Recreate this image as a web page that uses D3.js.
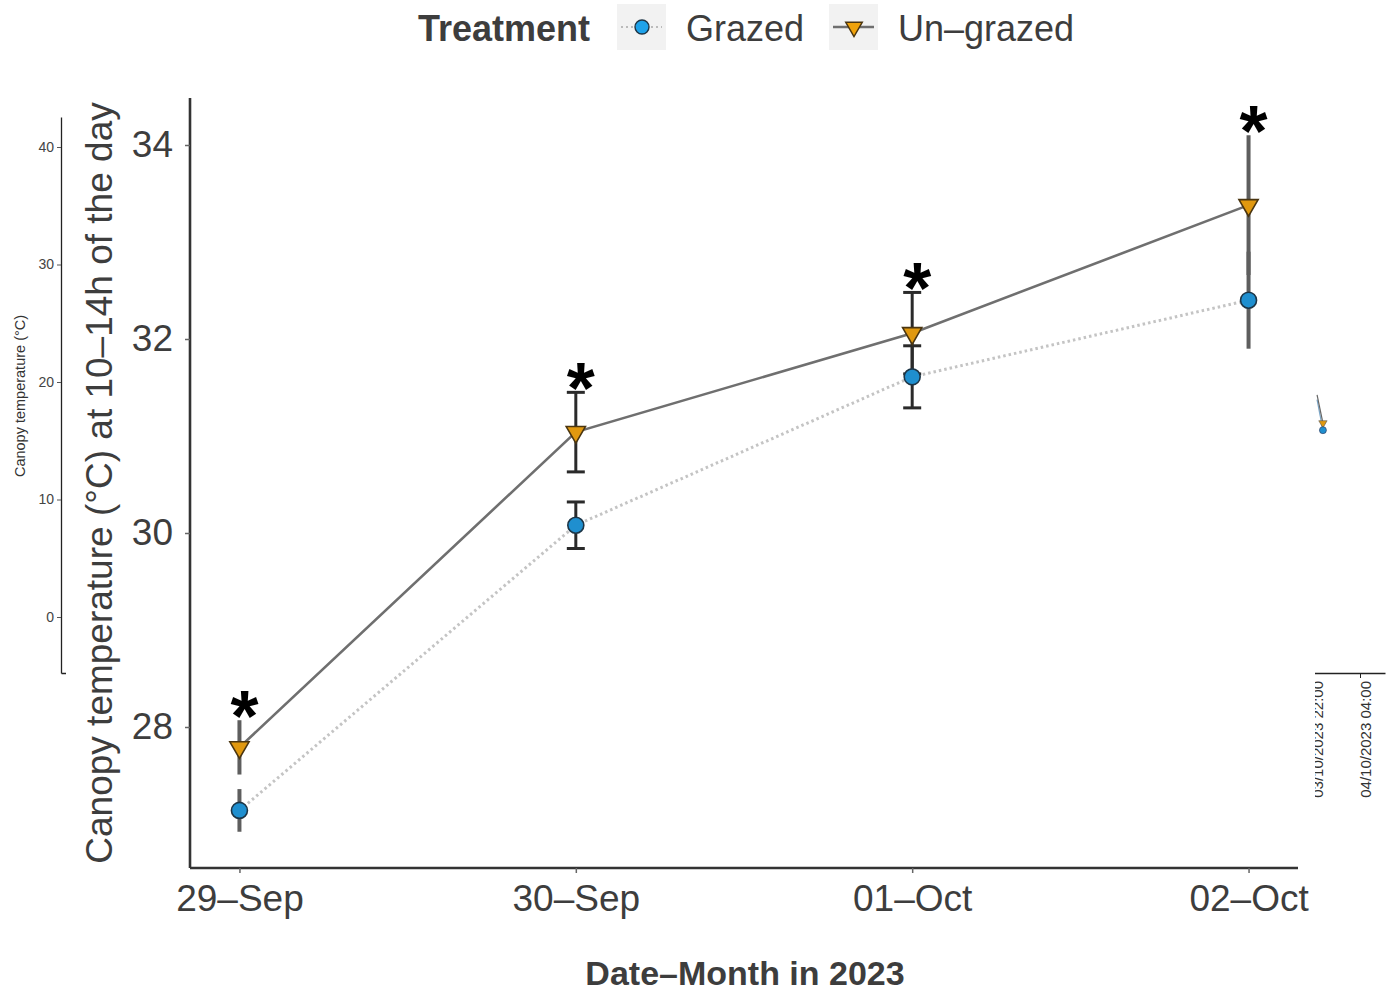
<!DOCTYPE html>
<html>
<head>
<meta charset="utf-8">
<script src="https://cdn.jsdelivr.net/npm/d3@7"></script>
<style>
  body { margin: 0; background: #fff; }
  svg { display: block; font-family: "Liberation Sans", Arial, sans-serif; }
</style>
</head>
<body>
<div id="wrapper"></div>
<script>
// data
const dates = ["29–Sep", "30–Sep", "01–Oct", "02–Oct"];
const grazedMean = [27.14, 30.08, 31.61, 32.4];
const grazedErr = [0.22, 0.24, 0.32, 0.5];
const ungrazedMean = [27.79, 31.04, 32.06, 33.38];
const ungrazedErr = [0.28, 0.41, 0.42, 0.72];
const yTicks = [28, 30, 32, 34];

// chart lying underneath (only edges visible)
const bgTicksY = [0, 10, 20, 30, 40];
const bgTickTimes = ["03/10/2023 22:00", "04/10/2023 04:00"];
const bgTimes = ["03/10/2023 22:38", "03/10/2023 23:22"];
const bgUngrazed = [18.9, 16.5];
const bgGrazed = [18.5, 15.9];

const colGrazed = "#1f8fcf";
const colUngrazed = "#e0980f";

function drawChart() {
  const width = 1387, height = 997;
  const svg = d3.select("#wrapper").append("svg")
    .attr("width", width).attr("height", height);

  // ---------- background chart ----------
  const parseTime = d3.timeParse("%d/%m/%Y %H:%M");
  const bg = svg.append("g").attr("class", "bg");
  const yb = d3.scaleLinear().domain([0, 40]).range([617, 147]);
  const ybFull = yb.copy().domain([yb.invert(673), yb.invert(117)]).range([673, 117]);
  const xbBase = d3.scaleTime()
    .domain(bgTickTimes.map(parseTime))
    .range([1312, 1360]);
  const xb = xbBase.copy().domain([xbBase.invert(61), xbBase.invert(1385)]).range([61, 1385]);

  const bgLeft = bg.append("g")
    .attr("transform", "translate(61,0)")
    .call(d3.axisLeft(ybFull).tickValues(bgTicksY).tickSize(4).tickSizeOuter(0).tickPadding(3));
  bgLeft.select(".domain").attr("stroke", "#222").attr("stroke-width", 1.3);
  bgLeft.selectAll(".tick line").attr("stroke", "#555");
  bgLeft.selectAll("text").attr("font-size", 14).attr("fill", "#444")
    .attr("font-family", "Liberation Sans, Arial, sans-serif");

  bg.append("text")
    .attr("transform", "translate(25,396) rotate(-90)")
    .attr("text-anchor", "middle")
    .attr("font-size", 14.5).attr("fill", "#333")
    .text("Canopy temperature (°C)");

  const bgBottom = bg.append("g")
    .attr("transform", "translate(0,673)")
    .call(d3.axisBottom(xb).tickValues(bgTickTimes.map(parseTime)).tickSize(5).tickSizeOuter(0)
      .tickFormat(d3.timeFormat("%d/%m/%Y %H:%M")));
  bgBottom.select(".domain").attr("stroke", "#222").attr("stroke-width", 1.3);
  bgBottom.selectAll(".tick line").attr("stroke", "#222");
  bgBottom.selectAll("text")
    .attr("font-size", 15).attr("fill", "#333")
    .attr("font-family", "Liberation Sans, Arial, sans-serif")
    .attr("transform", "rotate(-90)")
    .attr("text-anchor", "end")
    .attr("x", -8).attr("y", 5).attr("dy", "0.35em");

  const bgLine = d3.line().x((d, i) => xb(parseTime(bgTimes[i]))).y((d) => yb(d));
  bg.append("path").attr("d", bgLine(bgGrazed))
    .attr("fill", "none").attr("stroke", "#7aa6c8").attr("stroke-width", 1.2);
  bg.append("path").attr("d", bgLine(bgUngrazed))
    .attr("fill", "none").attr("stroke", "#666").attr("stroke-width", 1.2);
  const lastT = xb(parseTime(bgTimes[bgTimes.length - 1]));
  bg.append("path")
    .attr("d", d3.symbol(d3.symbolTriangle, 30)())
    .attr("transform", `translate(${lastT},${yb(bgUngrazed[bgUngrazed.length - 1])}) rotate(180)`)
    .attr("fill", colUngrazed).attr("stroke", "#555").attr("stroke-width", 0.6);
  bg.append("circle")
    .attr("cx", lastT).attr("cy", yb(bgGrazed[bgGrazed.length - 1])).attr("r", 3.5)
    .attr("fill", colGrazed).attr("stroke", "#335").attr("stroke-width", 0.6);

  // white panel of the main chart on top
  svg.append("rect").attr("x", 66).attr("y", 0).attr("width", 1315 - 66).attr("height", height)
    .attr("fill", "#fff");

  // ---------- main chart ----------
  const plot = { left: 190, right: 1298, top: 98, bottom: 868 };
  const x = d3.scalePoint().domain(dates).range([plot.left, plot.right]).padding(0.147);
  const y = d3.scaleLinear()
    .domain([28 - (plot.bottom - 727) / 97, 34 + (145 - plot.top) / 97])
    .range([plot.bottom, plot.top]);

  const g = svg.append("g").attr("class", "main");

  const yAxis = g.append("g")
    .attr("transform", `translate(${plot.left},0)`)
    .call(d3.axisLeft(y).tickValues(yTicks).tickSize(5).tickPadding(12));
  const xAxis = g.append("g")
    .attr("transform", `translate(0,${plot.bottom})`)
    .call(d3.axisBottom(x).tickSize(5).tickPadding(12));
  [yAxis, xAxis].forEach((ax) => {
    ax.select(".domain").attr("stroke", "#333").attr("stroke-width", 2.6);
    ax.selectAll(".tick line").attr("stroke", "#666").attr("stroke-width", 1.5);
    ax.selectAll("text").attr("font-size", 37).attr("fill", "#3d3d3d")
      .attr("font-family", "Liberation Sans, Arial, sans-serif");
  });
  xAxis.select(".domain").attr("d", `M${plot.left},0H${plot.right}`);
  yAxis.select(".domain").attr("d", `M0,${plot.top}V${plot.bottom}`);

  g.append("text")
    .attr("transform", `translate(112,${(plot.top + plot.bottom) / 2}) rotate(-90)`)
    .attr("text-anchor", "middle")
    .attr("font-size", 37).attr("fill", "#3d3d3d")
    .text("Canopy temperature (°C) at 10–14h of the day");

  g.append("text")
    .attr("x", 745).attr("y", 985)
    .attr("text-anchor", "middle")
    .attr("font-size", 34).attr("font-weight", "bold").attr("fill", "#3d3d3d")
    .text("Date–Month in 2023");

  // lines
  const line = d3.line().x((d, i) => x(dates[i])).y((d) => y(d));
  g.append("path").attr("d", line(grazedMean))
    .attr("fill", "none").attr("stroke", "#c4c4c4").attr("stroke-width", 3)
    .attr("stroke-dasharray", "2.5,3");
  g.append("path").attr("d", line(ungrazedMean))
    .attr("fill", "none").attr("stroke", "#6f6f6f").attr("stroke-width", 2.6);

  // error bars
  const showCap = (i) => i === 1 || i === 2;
  function errorBars(means, errs, cls) {
    const eb = g.append("g").attr("class", cls);
    means.forEach((m, i) => {
      const cx = x(dates[i]);
      eb.append("line")
        .attr("x1", cx).attr("x2", cx)
        .attr("y1", y(m - errs[i])).attr("y2", y(m + errs[i]))
        .attr("stroke", showCap(i) ? "#2a2a2a" : "#5e5e5e")
        .attr("stroke-width", showCap(i) ? 3 : 4);
      if (showCap(i)) {
        [m - errs[i], m + errs[i]].forEach((v) => {
          eb.append("line")
            .attr("x1", cx - 9).attr("x2", cx + 9)
            .attr("y1", y(v)).attr("y2", y(v))
            .attr("stroke", "#2a2a2a").attr("stroke-width", 3);
        });
      }
    });
  }
  errorBars(ungrazedMean, ungrazedErr, "eb-ungrazed");
  errorBars(grazedMean, grazedErr, "eb-grazed");

  // markers
  g.selectAll(".pt-grazed").data(grazedMean).join("circle")
    .attr("class", "pt-grazed")
    .attr("cx", (d, i) => x(dates[i])).attr("cy", (d) => y(d)).attr("r", 8)
    .attr("fill", colGrazed).attr("stroke", "#1d3546").attr("stroke-width", 1.6);
  const tri = d3.symbol(d3.symbolTriangle, 160)();
  g.selectAll(".pt-ungrazed").data(ungrazedMean).join("path")
    .attr("class", "pt-ungrazed")
    .attr("d", tri)
    .attr("transform", (d, i) => `translate(${x(dates[i])},${y(d)}) rotate(180)`)
    .attr("fill", colUngrazed).attr("stroke", "#4a3510").attr("stroke-width", 1.6);

  // significance stars
  g.selectAll(".star").data(ungrazedMean).join("text")
    .attr("class", "star")
    .attr("x", (d, i) => x(dates[i]) + 5)
    .attr("y", (d, i) => y(d + ungrazedErr[i]) + 21)
    .attr("text-anchor", "middle")
    .attr("font-size", 72).attr("font-weight", "bold").attr("fill", "#000")
    .text("*");

  // legend
  const legend = svg.append("g").attr("class", "legend");
  legend.append("text").attr("x", 418).attr("y", 41)
    .attr("font-size", 36).attr("font-weight", "bold").attr("fill", "#3d3d3d")
    .text("Treatment");
  const keys = [
    { name: "Grazed", x: 617 },
    { name: "Un–grazed", x: 829 },
  ];
  keys.forEach((k, i) => {
    const kg = legend.append("g").attr("transform", `translate(${k.x},4)`);
    kg.append("rect").attr("width", 49).attr("height", 46).attr("fill", "#f2f2f2");
    if (i === 0) {
      kg.append("line").attr("x1", 4).attr("x2", 45).attr("y1", 23).attr("y2", 23)
        .attr("stroke", "#bbb").attr("stroke-width", 2).attr("stroke-dasharray", "2,3");
      kg.append("circle").attr("cx", 25).attr("cy", 23).attr("r", 7)
        .attr("fill", "#1ea2ea").attr("stroke", "#1d3546").attr("stroke-width", 1.4);
    } else {
      kg.append("line").attr("x1", 4).attr("x2", 45).attr("y1", 23).attr("y2", 23)
        .attr("stroke", "#6f6f6f").attr("stroke-width", 2.4);
      kg.append("path").attr("d", d3.symbol(d3.symbolTriangle, 120)())
        .attr("transform", "translate(25,23) rotate(180)")
        .attr("fill", "#f0a20a").attr("stroke", "#4a3510").attr("stroke-width", 1.4);
    }
    legend.append("text").attr("x", k.x + 69).attr("y", 41)
      .attr("font-size", 36).attr("fill", "#3d3d3d").text(k.name);
  });
}

drawChart();
</script>
</body>
</html>
